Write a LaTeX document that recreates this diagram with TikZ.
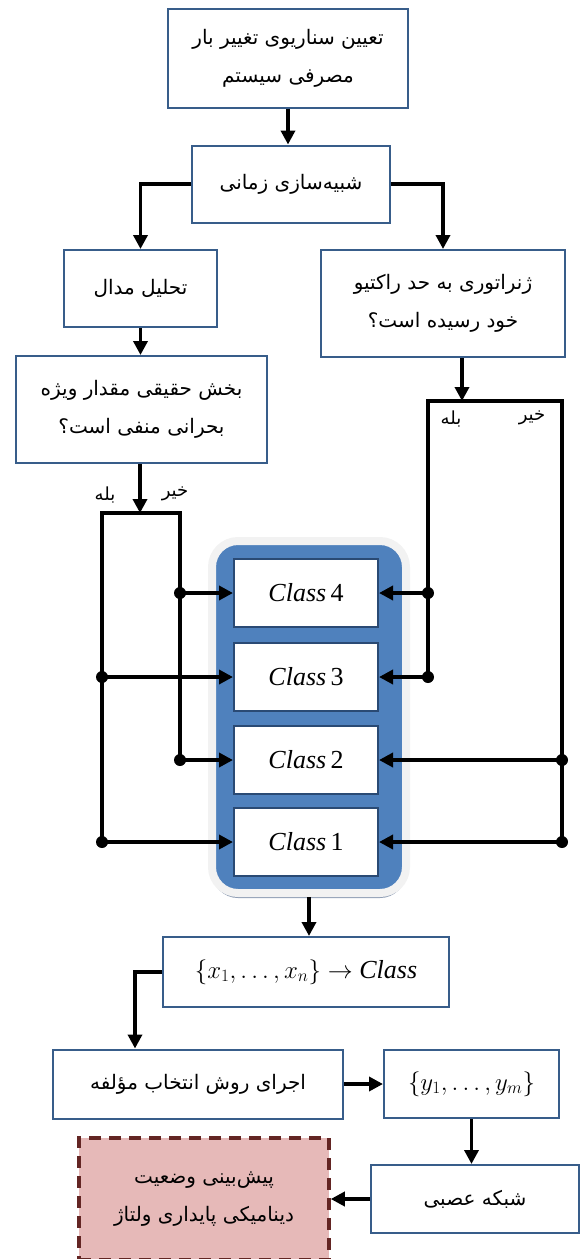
\documentclass[tikz,border=0pt]{standalone}
\usepackage{fontspec}
\setmainfont{Liberation Serif}
\newfontfamily\farsi[Script=Arabic]{DejaVu Sans}
\TeXXeTstate=1
\usetikzlibrary{arrows.meta,positioning,shadows}
\definecolor{boxblue}{HTML}{385D8A}
\definecolor{classedge}{HTML}{2A4A74}
\definecolor{panelblue}{HTML}{4F81BD}
\definecolor{panelglow}{HTML}{F2F2F2}
\definecolor{panelshadow}{HTML}{8E9DB4}
\definecolor{pinkfill}{HTML}{E6B9B8}
\definecolor{darkred}{HTML}{632523}
\newcommand{\fa}[1]{{\farsi\beginR #1\endR}}

\begin{document}
\begin{tikzpicture}[x=1pt,y=-1pt,
  box/.style={rectangle,draw=boxblue,line width=2pt,fill=white,align=center,
    inner sep=0pt,font=\fontsize{20}{38}\selectfont},
  cbox/.style={rectangle,draw=classedge,line width=2pt,fill=white,
    minimum width=144pt,minimum height=68pt,font=\fontsize{26}{30}\selectfont},
  panel/.style={rectangle,rounded corners=26pt,fill=panelblue,draw=panelglow,
    line width=8pt,drop shadow={shadow xshift=0pt,shadow yshift=-5pt,
    fill=panelshadow,opacity=1}},
  arr/.style={line width=3.5pt,-{Triangle[length=14pt,width=14pt]}},
  wire/.style={line width=3.5pt},
  lbl/.style={inner sep=0pt,font=\fontsize{18}{20}\selectfont}]
\useasboundingbox (0,0) rectangle (581,1259);

% upper part
\node[box,minimum width=240pt,minimum height=99pt] (load) at (288,58)
  {\fa{تعیین سناریوی تغییر بار}\\\fa{مصرفی سیستم}};
\node[box,minimum width=198pt,minimum height=77pt] (sim) at (291,184)
  {\fa{شبیه‌سازی زمانی}};
\node[box,minimum width=153pt,minimum height=77pt] (modal) at (140.5,288.5)
  {\fa{تحلیل مدال}};
\node[box,minimum width=251pt,minimum height=107pt] (eig) at (141.5,409.5)
  {\fa{بخش حقیقی مقدار ویژه}\\\fa{بحرانی منفی است؟}};
\node[box,minimum width=244pt,minimum height=107pt] (gen) at (443,303.5)
  {\fa{ژنراتوری به حد راکتیو}\\\fa{خود رسیده است؟}};

\draw[arr] (load.south) -- (load.south |- sim.north);
\draw[arr] (sim.west) -| (modal.north);
\draw[arr] (sim.east) -| (gen.north);
\draw[arr] (modal.south) -- (modal.south |- eig.north);

% classes
\node[panel,minimum width=194pt,minimum height=352pt] (cls) at (309,717) {};
\node[cbox] (c4) at (306,593) {{\itshape Class}\,4};
\node[cbox] (c3) at (306,677) {{\itshape Class}\,3};
\node[cbox] (c2) at (306,760) {{\itshape Class}\,2};
\node[cbox] (c1) at (306,842) {{\itshape Class}\,1};

% left yes/no
\coordinate (ltop) at (140,513);
\coordinate (lyes) at (102,513);
\coordinate (lno) at (180,513);
\draw[arr] (eig.south -| ltop) -- (ltop);
\node[lbl] (lyeslbl) at (105,495) {\fa{بله}};
\node[lbl] (lnolbl) at (175,494) {\fa{خیر}};
\draw[wire] (lyes |- c1) -- (lyes) -- (lno) -- (lno |- c2);
\draw[arr] (lno |- c4) -- (c4);
\draw[arr] (lyes |- c3) -- (c3);
\draw[arr] (lno |- c2) -- (c2);
\draw[arr] (lyes |- c1) -- (c1);
\foreach \c in {c4,c2} \fill (lno |- \c) circle (6pt);
\foreach \c in {c3,c1} \fill (lyes |- \c) circle (6pt);

% right yes/no
\coordinate (rtop) at (462,401);
\coordinate (ryes) at (428,401);
\coordinate (rno) at (562,401);
\draw[arr] (gen.south -| rtop) -- (rtop);
\node[lbl] (ryeslbl) at (451,419) {\fa{بله}};
\node[lbl] (rnolbl) at (532,418) {\fa{خیر}};
\draw[wire] (ryes |- c3) -- (ryes) -- (rno) -- (rno |- c1);
\draw[arr] (ryes |- c4) -- (c4);
\draw[arr] (ryes |- c3) -- (c3);
\draw[arr] (rno |- c2) -- (c2);
\draw[arr] (rno |- c1) -- (c1);
\foreach \c in {c4,c3} \fill (ryes |- \c) circle (6pt);
\foreach \c in {c2,c1} \fill (rno |- \c) circle (6pt);

% lower part
\node[box,minimum width=286pt,minimum height=70pt,font=\fontsize{26}{30}\selectfont]
  (xc) at (306,972) {$\big\{x_1,\ldots,x_n\big\}\to$ {\itshape Class}};
\node[box,minimum width=290pt,minimum height=69pt] (sel) at (198,1084)
  {\fa{اجرای روش انتخاب مؤلفه}};
\node[box,minimum width=175pt,minimum height=68pt,font=\fontsize{26}{30}\selectfont]
  (ys) at (471.5,1084) {$\big\{y_1,\ldots,y_m\big\}$};
\node[box,minimum width=208pt,minimum height=68pt] (nn) at (475,1199)
  {\fa{شبکه عصبی}};
\node[box,draw=darkred,fill=pinkfill,line width=3.5pt,dash pattern=on 12pt off 8pt,
  minimum width=250pt,minimum height=122pt] (pred) at (204,1199)
  {\fa{پیش‌بینی وضعیت}\\\fa{دینامیکی پایداری ولتاژ}};

\coordinate (bend) at (135,972);
\draw[arr] (cls.south) -- (cls.south |- xc.north);
\draw[arr] (xc.west) -- (bend) -- (bend |- sel.north);
\draw[arr] (sel) -- (ys);
\draw[arr] (ys.south) -- (ys.south |- nn.north);
\draw[arr] (nn) -- (pred);
\end{tikzpicture}
\end{document}
